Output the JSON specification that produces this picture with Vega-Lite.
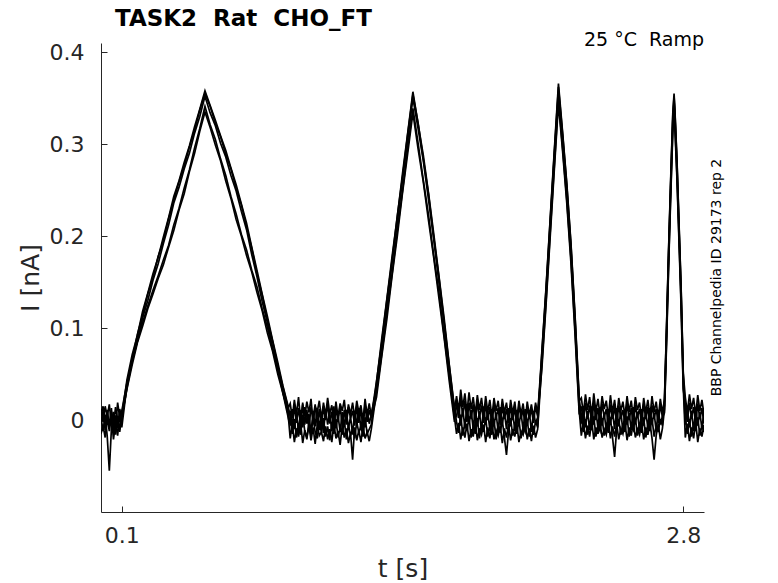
{
  "$schema": "https://vega.github.io/schema/vega-lite/v6.json",
  "width": 603,
  "height": 469,
  "autosize": {"type": "none"},
  "padding": {"left": 101, "top": 43, "right": 74, "bottom": 71},
  "background": "white",
  "title": {
    "text": "TASK2\u00a0\u00a0Rat\u00a0\u00a0CHO_FT",
    "anchor": "start",
    "frame": "group",
    "dx": 14,
    "offset": 0,
    "font": "DejaVu Sans",
    "fontSize": 23,
    "fontWeight": "bold",
    "color": "black"
  },
  "datasets": {
    "sweeps": [
      {"t":0.00,"a":0.012,"b":-0.004,"c":0.003,"d":-0.015,"e":0.006},
      {"t":0.01,"a":-0.002,"b":0.010,"c":-0.012,"d":-0.006,"e":0.015},
      {"t":0.02,"a":0.015,"b":-0.011,"c":0.006,"d":-0.019,"e":-0.003},
      {"t":0.03,"a":0.004,"b":0.008,"c":-0.018,"d":0.002,"e":0.011},
      {"t":0.04,"a":0.017,"b":-0.006,"c":-0.055,"d":-0.012,"e":-0.008},
      {"t":0.05,"a":-0.005,"b":0.013,"c":-0.010,"d":0.004,"e":0.009},
      {"t":0.06,"a":0.009,"b":-0.014,"c":0.007,"d":-0.021,"e":-0.006},
      {"t":0.07,"a":-0.008,"b":0.005,"c":-0.016,"d":-0.003,"e":0.014},
      {"t":0.08,"a":0.019,"b":-0.009,"c":0.004,"d":-0.017,"e":0.001},
      {"t":0.09,"a":0.003,"b":0.012,"c":-0.013,"d":0.006,"e":-0.010},
      {"t":0.10,"a":0.010,"b":0.002,"c":0.005,"d":-0.008,"e":0.004},
      {"t":0.125,"a":0.041,"b":0.035,"c":0.044,"d":0.038,"e":0.034},
      {"t":0.15,"a":0.066,"b":0.064,"c":0.071,"d":0.064,"e":0.060},
      {"t":0.175,"a":0.093,"b":0.086,"c":0.092,"d":0.086,"e":0.084},
      {"t":0.20,"a":0.114,"b":0.111,"c":0.118,"d":0.106,"e":0.102},
      {"t":0.225,"a":0.137,"b":0.130,"c":0.138,"d":0.124,"e":0.121},
      {"t":0.25,"a":0.155,"b":0.152,"c":0.159,"d":0.141,"e":0.137},
      {"t":0.275,"a":0.178,"b":0.170,"c":0.177,"d":0.157,"e":0.154},
      {"t":0.30,"a":0.195,"b":0.192,"c":0.199,"d":0.174,"e":0.169},
      {"t":0.325,"a":0.219,"b":0.212,"c":0.220,"d":0.190,"e":0.188},
      {"t":0.35,"a":0.239,"b":0.236,"c":0.243,"d":0.212,"e":0.206},
      {"t":0.375,"a":0.259,"b":0.253,"c":0.260,"d":0.230,"e":0.228},
      {"t":0.40,"a":0.276,"b":0.273,"c":0.280,"d":0.252,"e":0.246},
      {"t":0.425,"a":0.297,"b":0.290,"c":0.298,"d":0.272,"e":0.270},
      {"t":0.45,"a":0.315,"b":0.312,"c":0.319,"d":0.296,"e":0.290},
      {"t":0.475,"a":0.337,"b":0.330,"c":0.338,"d":0.317,"e":0.314},
      {"t":0.50,"a":0.355,"b":0.352,"c":0.358,"d":0.341,"e":0.335},
      {"t":0.525,"a":0.341,"b":0.334,"c":0.342,"d":0.321,"e":0.318},
      {"t":0.55,"a":0.323,"b":0.320,"c":0.326,"d":0.305,"e":0.299},
      {"t":0.575,"a":0.308,"b":0.301,"c":0.309,"d":0.284,"e":0.282},
      {"t":0.60,"a":0.289,"b":0.286,"c":0.293,"d":0.266,"e":0.260},
      {"t":0.625,"a":0.273,"b":0.266,"c":0.274,"d":0.243,"e":0.241},
      {"t":0.65,"a":0.252,"b":0.249,"c":0.256,"d":0.224,"e":0.218},
      {"t":0.675,"a":0.234,"b":0.227,"c":0.235,"d":0.202,"e":0.200},
      {"t":0.70,"a":0.210,"b":0.207,"c":0.214,"d":0.185,"e":0.179},
      {"t":0.725,"a":0.187,"b":0.180,"c":0.188,"d":0.163,"e":0.161},
      {"t":0.75,"a":0.159,"b":0.156,"c":0.163,"d":0.145,"e":0.139},
      {"t":0.775,"a":0.136,"b":0.129,"c":0.137,"d":0.121,"e":0.119},
      {"t":0.80,"a":0.109,"b":0.106,"c":0.113,"d":0.101,"e":0.095},
      {"t":0.825,"a":0.086,"b":0.079,"c":0.087,"d":0.077,"e":0.075},
      {"t":0.85,"a":0.059,"b":0.056,"c":0.063,"d":0.056,"e":0.050},
      {"t":0.875,"a":0.036,"b":0.029,"c":0.037,"d":0.031,"e":0.029},
      {"t":0.90,"a":0.013,"b":0.010,"c":0.015,"d":0.006,"e":0.003},
      {"t":0.91,"a":0.018,"b":-0.006,"c":0.004,"d":-0.020,"e":0.010},
      {"t":0.92,"a":0.002,"b":0.012,"c":-0.015,"d":-0.004,"e":-0.008},
      {"t":0.93,"a":0.022,"b":-0.010,"c":0.001,"d":-0.024,"e":0.016},
      {"t":0.94,"a":0.006,"b":0.009,"c":-0.019,"d":-0.009,"e":-0.003},
      {"t":0.95,"a":0.025,"b":-0.013,"c":-0.004,"d":-0.018,"e":0.013},
      {"t":0.96,"a":-0.001,"b":0.011,"c":-0.016,"d":-0.003,"e":-0.007},
      {"t":0.97,"a":0.017,"b":-0.008,"c":0.006,"d":-0.025,"e":0.019},
      {"t":0.98,"a":0.004,"b":0.014,"c":-0.012,"d":-0.011,"e":-0.005},
      {"t":0.99,"a":0.020,"b":-0.004,"c":-0.021,"d":-0.019,"e":0.011},
      {"t":1.00,"a":0.008,"b":0.007,"c":-0.002,"d":-0.006,"e":-0.009},
      {"t":1.01,"a":0.023,"b":-0.015,"c":-0.017,"d":-0.022,"e":0.014},
      {"t":1.02,"a":-0.003,"b":0.010,"c":0.003,"d":-0.008,"e":0.001},
      {"t":1.03,"a":0.015,"b":-0.007,"c":-0.013,"d":-0.026,"e":0.017},
      {"t":1.04,"a":0.009,"b":0.013,"c":-0.020,"d":-0.005,"e":-0.006},
      {"t":1.05,"a":0.021,"b":-0.011,"c":-0.001,"d":-0.017,"e":0.012},
      {"t":1.06,"a":0.001,"b":0.006,"c":-0.014,"d":-0.013,"e":-0.010},
      {"t":1.07,"a":0.019,"b":-0.014,"c":0.002,"d":-0.023,"e":0.015},
      {"t":1.08,"a":0.005,"b":0.012,"c":-0.018,"d":-0.007,"e":0.000},
      {"t":1.09,"a":0.024,"b":-0.005,"c":-0.007,"d":-0.021,"e":0.018},
      {"t":1.10,"a":0.007,"b":0.008,"c":-0.022,"d":-0.010,"e":-0.004},
      {"t":1.11,"a":0.016,"b":-0.012,"c":-0.003,"d":-0.024,"e":0.009},
      {"t":1.12,"a":-0.002,"b":0.015,"c":-0.015,"d":-0.004,"e":-0.008},
      {"t":1.13,"a":0.020,"b":-0.009,"c":0.001,"d":-0.020,"e":0.013},
      {"t":1.14,"a":0.003,"b":0.005,"c":-0.019,"d":-0.012,"e":-0.002},
      {"t":1.15,"a":0.018,"b":-0.013,"c":-0.008,"d":-0.027,"e":0.016},
      {"t":1.16,"a":0.010,"b":0.009,"c":-0.016,"d":-0.006,"e":-0.007},
      {"t":1.17,"a":0.022,"b":-0.007,"c":0.000,"d":-0.019,"e":0.011},
      {"t":1.18,"a":0.000,"b":0.011,"c":-0.021,"d":-0.009,"e":-0.005},
      {"t":1.19,"a":0.017,"b":-0.010,"c":-0.005,"d":-0.025,"e":0.014},
      {"t":1.20,"a":0.006,"b":0.004,"c":-0.017,"d":-0.014,"e":0.002},
      {"t":1.21,"a":0.019,"b":-0.016,"c":-0.009,"d":-0.043,"e":0.010},
      {"t":1.22,"a":0.002,"b":0.010,"c":-0.020,"d":-0.008,"e":-0.006},
      {"t":1.23,"a":0.021,"b":-0.006,"c":-0.002,"d":-0.022,"e":0.015},
      {"t":1.24,"a":0.008,"b":0.013,"c":-0.014,"d":-0.011,"e":-0.003},
      {"t":1.25,"a":0.016,"b":-0.011,"c":-0.006,"d":-0.024,"e":0.012},
      {"t":1.26,"a":-0.001,"b":0.007,"c":-0.018,"d":-0.007,"e":-0.009},
      {"t":1.27,"a":0.023,"b":-0.008,"c":0.003,"d":-0.020,"e":0.017},
      {"t":1.28,"a":0.005,"b":0.012,"c":-0.015,"d":-0.013,"e":-0.002},
      {"t":1.29,"a":0.018,"b":-0.004,"c":-0.010,"d":-0.023,"e":0.011},
      {"t":1.30,"a":0.004,"b":0.006,"c":-0.005,"d":-0.010,"e":0.002},
      {"t":1.325,"a":0.042,"b":0.035,"c":0.041,"d":0.031,"e":0.025},
      {"t":1.35,"a":0.084,"b":0.082,"c":0.088,"d":0.071,"e":0.069},
      {"t":1.375,"a":0.131,"b":0.125,"c":0.132,"d":0.117,"e":0.110},
      {"t":1.40,"a":0.174,"b":0.172,"c":0.178,"d":0.159,"e":0.157},
      {"t":1.425,"a":0.222,"b":0.215,"c":0.221,"d":0.206,"e":0.200},
      {"t":1.45,"a":0.264,"b":0.262,"c":0.268,"d":0.249,"e":0.247},
      {"t":1.475,"a":0.311,"b":0.305,"c":0.312,"d":0.296,"e":0.290},
      {"t":1.50,"a":0.354,"b":0.350,"c":0.357,"d":0.339,"e":0.334},
      {"t":1.525,"a":0.323,"b":0.317,"c":0.322,"d":0.301,"e":0.295},
      {"t":1.55,"a":0.284,"b":0.282,"c":0.288,"d":0.261,"e":0.259},
      {"t":1.575,"a":0.246,"b":0.240,"c":0.247,"d":0.223,"e":0.217},
      {"t":1.60,"a":0.199,"b":0.197,"c":0.203,"d":0.179,"e":0.177},
      {"t":1.625,"a":0.156,"b":0.150,"c":0.157,"d":0.139,"e":0.133},
      {"t":1.65,"a":0.107,"b":0.105,"c":0.111,"d":0.092,"e":0.090},
      {"t":1.675,"a":0.059,"b":0.053,"c":0.060,"d":0.048,"e":0.042},
      {"t":1.70,"a":0.011,"b":0.006,"c":0.013,"d":0.003,"e":-0.002},
      {"t":1.71,"a":0.026,"b":0.004,"c":-0.002,"d":-0.015,"e":0.020},
      {"t":1.72,"a":0.010,"b":0.018,"c":-0.014,"d":-0.003,"e":0.002},
      {"t":1.73,"a":0.033,"b":-0.006,"c":0.006,"d":-0.021,"e":0.024},
      {"t":1.74,"a":0.014,"b":0.013,"c":-0.017,"d":-0.008,"e":0.004},
      {"t":1.75,"a":0.029,"b":-0.009,"c":-0.003,"d":-0.019,"e":0.021},
      {"t":1.76,"a":0.008,"b":0.016,"c":-0.012,"d":-0.004,"e":-0.002},
      {"t":1.77,"a":0.030,"b":-0.004,"c":0.004,"d":-0.023,"e":0.019},
      {"t":1.78,"a":0.012,"b":0.011,"c":-0.019,"d":-0.010,"e":0.001},
      {"t":1.79,"a":0.025,"b":-0.010,"c":-0.007,"d":-0.018,"e":0.017},
      {"t":1.80,"a":0.006,"b":0.014,"c":-0.015,"d":-0.002,"e":-0.004},
      {"t":1.81,"a":0.027,"b":-0.007,"c":0.002,"d":-0.022,"e":0.020},
      {"t":1.82,"a":0.011,"b":0.009,"c":-0.020,"d":-0.009,"e":0.003},
      {"t":1.83,"a":0.024,"b":-0.012,"c":-0.004,"d":-0.016,"e":0.016},
      {"t":1.84,"a":0.004,"b":0.015,"c":-0.013,"d":-0.005,"e":-0.003},
      {"t":1.85,"a":0.026,"b":-0.005,"c":0.003,"d":-0.024,"e":0.018},
      {"t":1.86,"a":0.009,"b":0.010,"c":-0.018,"d":-0.008,"e":0.000},
      {"t":1.87,"a":0.022,"b":-0.011,"c":-0.008,"d":-0.020,"e":0.014},
      {"t":1.88,"a":0.003,"b":0.012,"c":-0.016,"d":-0.003,"e":-0.005},
      {"t":1.89,"a":0.024,"b":-0.006,"c":0.001,"d":-0.021,"e":0.017},
      {"t":1.90,"a":0.010,"b":0.008,"c":-0.021,"d":-0.011,"e":0.002},
      {"t":1.91,"a":0.021,"b":-0.013,"c":-0.005,"d":-0.017,"e":0.013},
      {"t":1.92,"a":0.002,"b":0.014,"c":-0.014,"d":-0.006,"e":-0.006},
      {"t":1.93,"a":0.023,"b":-0.004,"c":0.000,"d":-0.025,"e":0.016},
      {"t":1.94,"a":0.008,"b":0.009,"c":-0.019,"d":-0.009,"e":0.001},
      {"t":1.95,"a":0.019,"b":-0.010,"c":-0.038,"d":-0.019,"e":0.012},
      {"t":1.96,"a":0.001,"b":0.013,"c":-0.012,"d":-0.004,"e":-0.004},
      {"t":1.97,"a":0.022,"b":-0.007,"c":0.002,"d":-0.022,"e":0.015},
      {"t":1.98,"a":0.007,"b":0.010,"c":-0.017,"d":-0.010,"e":0.000},
      {"t":1.99,"a":0.020,"b":-0.012,"c":-0.006,"d":-0.018,"e":0.013},
      {"t":2.00,"a":0.000,"b":0.011,"c":-0.015,"d":-0.005,"e":-0.006},
      {"t":2.01,"a":0.021,"b":-0.005,"c":0.001,"d":-0.024,"e":0.016},
      {"t":2.02,"a":0.006,"b":0.008,"c":-0.020,"d":-0.012,"e":0.002},
      {"t":2.03,"a":0.018,"b":-0.011,"c":-0.007,"d":-0.016,"e":0.011},
      {"t":2.04,"a":-0.001,"b":0.012,"c":-0.013,"d":-0.003,"e":-0.005},
      {"t":2.05,"a":0.020,"b":-0.006,"c":0.000,"d":-0.021,"e":0.014},
      {"t":2.06,"a":0.005,"b":0.009,"c":-0.018,"d":-0.009,"e":0.001},
      {"t":2.07,"a":0.017,"b":-0.013,"c":-0.004,"d":-0.023,"e":0.012},
      {"t":2.08,"a":0.002,"b":0.010,"c":-0.016,"d":-0.006,"e":-0.003},
      {"t":2.09,"a":0.019,"b":-0.004,"c":-0.001,"d":-0.019,"e":0.015},
      {"t":2.10,"a":0.006,"b":0.003,"c":-0.008,"d":-0.010,"e":0.004},
      {"t":2.12,"a":0.072,"b":0.066,"c":0.074,"d":0.060,"e":0.055},
      {"t":2.14,"a":0.141,"b":0.136,"c":0.143,"d":0.128,"e":0.124},
      {"t":2.16,"a":0.216,"b":0.211,"c":0.218,"d":0.203,"e":0.198},
      {"t":2.18,"a":0.290,"b":0.286,"c":0.293,"d":0.276,"e":0.272},
      {"t":2.20,"a":0.362,"b":0.356,"c":0.366,"d":0.348,"e":0.344},
      {"t":2.22,"a":0.311,"b":0.306,"c":0.313,"d":0.296,"e":0.292},
      {"t":2.24,"a":0.256,"b":0.250,"c":0.258,"d":0.240,"e":0.236},
      {"t":2.26,"a":0.191,"b":0.186,"c":0.193,"d":0.176,"e":0.171},
      {"t":2.28,"a":0.111,"b":0.106,"c":0.113,"d":0.097,"e":0.092},
      {"t":2.30,"a":0.021,"b":0.016,"c":0.023,"d":0.010,"e":0.006},
      {"t":2.31,"a":0.024,"b":-0.004,"c":0.005,"d":-0.017,"e":0.015},
      {"t":2.32,"a":0.007,"b":0.013,"c":-0.013,"d":-0.002,"e":-0.003},
      {"t":2.33,"a":0.028,"b":-0.008,"c":0.001,"d":-0.020,"e":0.019},
      {"t":2.34,"a":0.011,"b":0.010,"c":-0.016,"d":-0.006,"e":0.002},
      {"t":2.35,"a":0.025,"b":-0.011,"c":-0.003,"d":-0.018,"e":0.016},
      {"t":2.36,"a":0.004,"b":0.015,"c":-0.011,"d":-0.001,"e":-0.005},
      {"t":2.37,"a":0.029,"b":-0.005,"c":0.004,"d":-0.021,"e":0.020},
      {"t":2.38,"a":0.009,"b":0.011,"c":-0.018,"d":-0.008,"e":0.000},
      {"t":2.39,"a":0.023,"b":-0.009,"c":-0.006,"d":-0.015,"e":0.013},
      {"t":2.40,"a":0.005,"b":0.014,"c":-0.012,"d":-0.003,"e":-0.004},
      {"t":2.41,"a":0.026,"b":-0.006,"c":0.002,"d":-0.019,"e":0.018},
      {"t":2.42,"a":0.012,"b":0.008,"c":-0.017,"d":-0.010,"e":0.003},
      {"t":2.43,"a":0.021,"b":-0.012,"c":-0.004,"d":-0.016,"e":0.012},
      {"t":2.44,"a":0.003,"b":0.012,"c":-0.014,"d":-0.002,"e":-0.006},
      {"t":2.45,"a":0.027,"b":-0.003,"c":0.003,"d":-0.020,"e":0.017},
      {"t":2.46,"a":0.008,"b":0.009,"c":-0.019,"d":-0.007,"e":0.001},
      {"t":2.47,"a":0.022,"b":-0.010,"c":-0.040,"d":-0.018,"e":0.014},
      {"t":2.48,"a":0.002,"b":0.013,"c":-0.010,"d":-0.004,"e":-0.005},
      {"t":2.49,"a":0.024,"b":-0.007,"c":0.001,"d":-0.021,"e":0.016},
      {"t":2.50,"a":0.010,"b":0.010,"c":-0.016,"d":-0.009,"e":0.002},
      {"t":2.51,"a":0.020,"b":-0.013,"c":-0.005,"d":-0.015,"e":0.011},
      {"t":2.52,"a":0.004,"b":0.011,"c":-0.013,"d":-0.003,"e":-0.004},
      {"t":2.53,"a":0.026,"b":-0.005,"c":0.004,"d":-0.022,"e":0.019},
      {"t":2.54,"a":0.009,"b":0.008,"c":-0.018,"d":-0.008,"e":0.000},
      {"t":2.55,"a":0.021,"b":-0.011,"c":-0.006,"d":-0.017,"e":0.013},
      {"t":2.56,"a":0.003,"b":0.014,"c":-0.011,"d":-0.002,"e":-0.006},
      {"t":2.57,"a":0.025,"b":-0.004,"c":0.002,"d":-0.019,"e":0.017},
      {"t":2.58,"a":0.011,"b":0.009,"c":-0.017,"d":-0.010,"e":0.003},
      {"t":2.59,"a":0.019,"b":-0.012,"c":-0.003,"d":-0.016,"e":0.012},
      {"t":2.60,"a":0.001,"b":0.012,"c":-0.014,"d":-0.004,"e":-0.005},
      {"t":2.61,"a":0.024,"b":-0.006,"c":0.003,"d":-0.021,"e":0.018},
      {"t":2.62,"a":0.008,"b":0.010,"c":-0.019,"d":-0.008,"e":0.001},
      {"t":2.63,"a":0.022,"b":-0.009,"c":-0.005,"d":-0.016,"e":0.014},
      {"t":2.64,"a":0.003,"b":0.013,"c":-0.012,"d":-0.003,"e":-0.006},
      {"t":2.65,"a":0.026,"b":-0.004,"c":0.002,"d":-0.020,"e":0.016},
      {"t":2.66,"a":0.009,"b":0.008,"c":-0.018,"d":-0.043,"e":0.002},
      {"t":2.67,"a":0.020,"b":-0.012,"c":-0.006,"d":-0.017,"e":0.012},
      {"t":2.68,"a":0.002,"b":0.011,"c":-0.013,"d":-0.004,"e":-0.004},
      {"t":2.69,"a":0.023,"b":-0.005,"c":0.001,"d":-0.021,"e":0.017},
      {"t":2.70,"a":0.008,"b":0.004,"c":-0.006,"d":-0.009,"e":0.003},
      {"t":2.71,"a":0.022,"b":0.016,"c":0.024,"d":0.012,"e":0.008},
      {"t":2.72,"a":0.101,"b":0.096,"c":0.103,"d":0.088,"e":0.083},
      {"t":2.73,"a":0.186,"b":0.181,"c":0.188,"d":0.172,"e":0.168},
      {"t":2.74,"a":0.261,"b":0.256,"c":0.264,"d":0.248,"e":0.243},
      {"t":2.75,"a":0.331,"b":0.326,"c":0.334,"d":0.318,"e":0.313},
      {"t":2.756,"a":0.352,"b":0.347,"c":0.355,"d":0.339,"e":0.334},
      {"t":2.76,"a":0.336,"b":0.331,"c":0.338,"d":0.322,"e":0.317},
      {"t":2.77,"a":0.281,"b":0.276,"c":0.283,"d":0.266,"e":0.262},
      {"t":2.78,"a":0.211,"b":0.206,"c":0.213,"d":0.197,"e":0.192},
      {"t":2.79,"a":0.141,"b":0.136,"c":0.143,"d":0.127,"e":0.122},
      {"t":2.80,"a":0.051,"b":0.046,"c":0.053,"d":0.038,"e":0.034},
      {"t":2.81,"a":0.025,"b":-0.005,"c":0.004,"d":-0.019,"e":0.016},
      {"t":2.82,"a":0.008,"b":0.014,"c":-0.015,"d":-0.004,"e":-0.002},
      {"t":2.83,"a":0.028,"b":-0.008,"c":0.001,"d":-0.023,"e":0.019},
      {"t":2.84,"a":0.012,"b":0.010,"c":-0.018,"d":-0.008,"e":0.003},
      {"t":2.85,"a":0.024,"b":-0.012,"c":-0.004,"d":-0.020,"e":0.014},
      {"t":2.86,"a":0.005,"b":0.013,"c":-0.012,"d":-0.002,"e":-0.005},
      {"t":2.87,"a":0.027,"b":-0.006,"c":0.003,"d":-0.024,"e":0.018},
      {"t":2.88,"a":0.010,"b":0.009,"c":-0.017,"d":-0.009,"e":0.001},
      {"t":2.89,"a":0.022,"b":-0.010,"c":-0.006,"d":-0.018,"e":0.013},
      {"t":2.90,"a":0.006,"b":0.011,"c":-0.013,"d":-0.005,"e":-0.004}
    ],
    "notes": [
      {"kind": "condition", "note": "25\u00a0°C\u00a0\u00a0Ramp"},
      {"kind": "source", "note": "BBP Channelpedia ID 29173 rep 2"}
    ]
  },
  "layer": [
    {
      "data": {"name": "sweeps"},
      "transform": [{"fold": ["a", "b", "c", "d", "e"], "as": ["sweep", "current"]}],
      "mark": {"type": "line", "color": "black", "strokeWidth": 1.7, "clip": true},
      "encoding": {
        "x": {
          "field": "t",
          "type": "quantitative",
          "scale": {"domain": [0, 2.9], "nice": false, "zero": false},
          "axis": {"values": [0.1, 2.8], "format": "~g", "title": "t [s]"}
        },
        "y": {
          "field": "current",
          "type": "quantitative",
          "scale": {"domain": [-0.1, 0.41], "nice": false, "zero": false},
          "axis": {"values": [0, 0.1, 0.2, 0.3, 0.4], "format": "~g", "title": "I [nA]"}
        },
        "detail": {"field": "sweep", "type": "nominal"}
      }
    },
    {
      "data": {"name": "notes"},
      "transform": [{"filter": "datum.kind == 'condition'"}],
      "mark": {"type": "text", "align": "right", "baseline": "middle", "dy": -3, "font": "DejaVu Sans", "fontSize": 19, "color": "black"},
      "encoding": {
        "x": {"datum": 2.9},
        "y": {"datum": 0.41},
        "text": {"field": "note"}
      }
    },
    {
      "data": {"name": "notes"},
      "transform": [{"filter": "datum.kind == 'source'"}],
      "mark": {"type": "text", "align": "center", "baseline": "middle", "angle": 270, "dy": 13, "font": "DejaVu Sans", "fontSize": 14, "color": "black"},
      "encoding": {
        "x": {"datum": 2.9},
        "y": {"datum": 0.155},
        "text": {"field": "note"}
      }
    }
  ],
  "config": {
    "view": {"stroke": null},
    "axis": {
      "grid": false,
      "domainColor": "#262626",
      "tickColor": "#262626",
      "tickSize": -6,
      "labelFont": "DejaVu Sans",
      "labelFontSize": 22,
      "labelColor": "#262626",
      "titleFont": "DejaVu Sans",
      "titleFontSize": 25,
      "titleFontWeight": "normal",
      "titleColor": "#262626"
    },
    "axisY": {"labelPadding": 23, "titlePadding": 6},
    "axisX": {"labelPadding": 19, "titlePadding": 10}
  }
}
